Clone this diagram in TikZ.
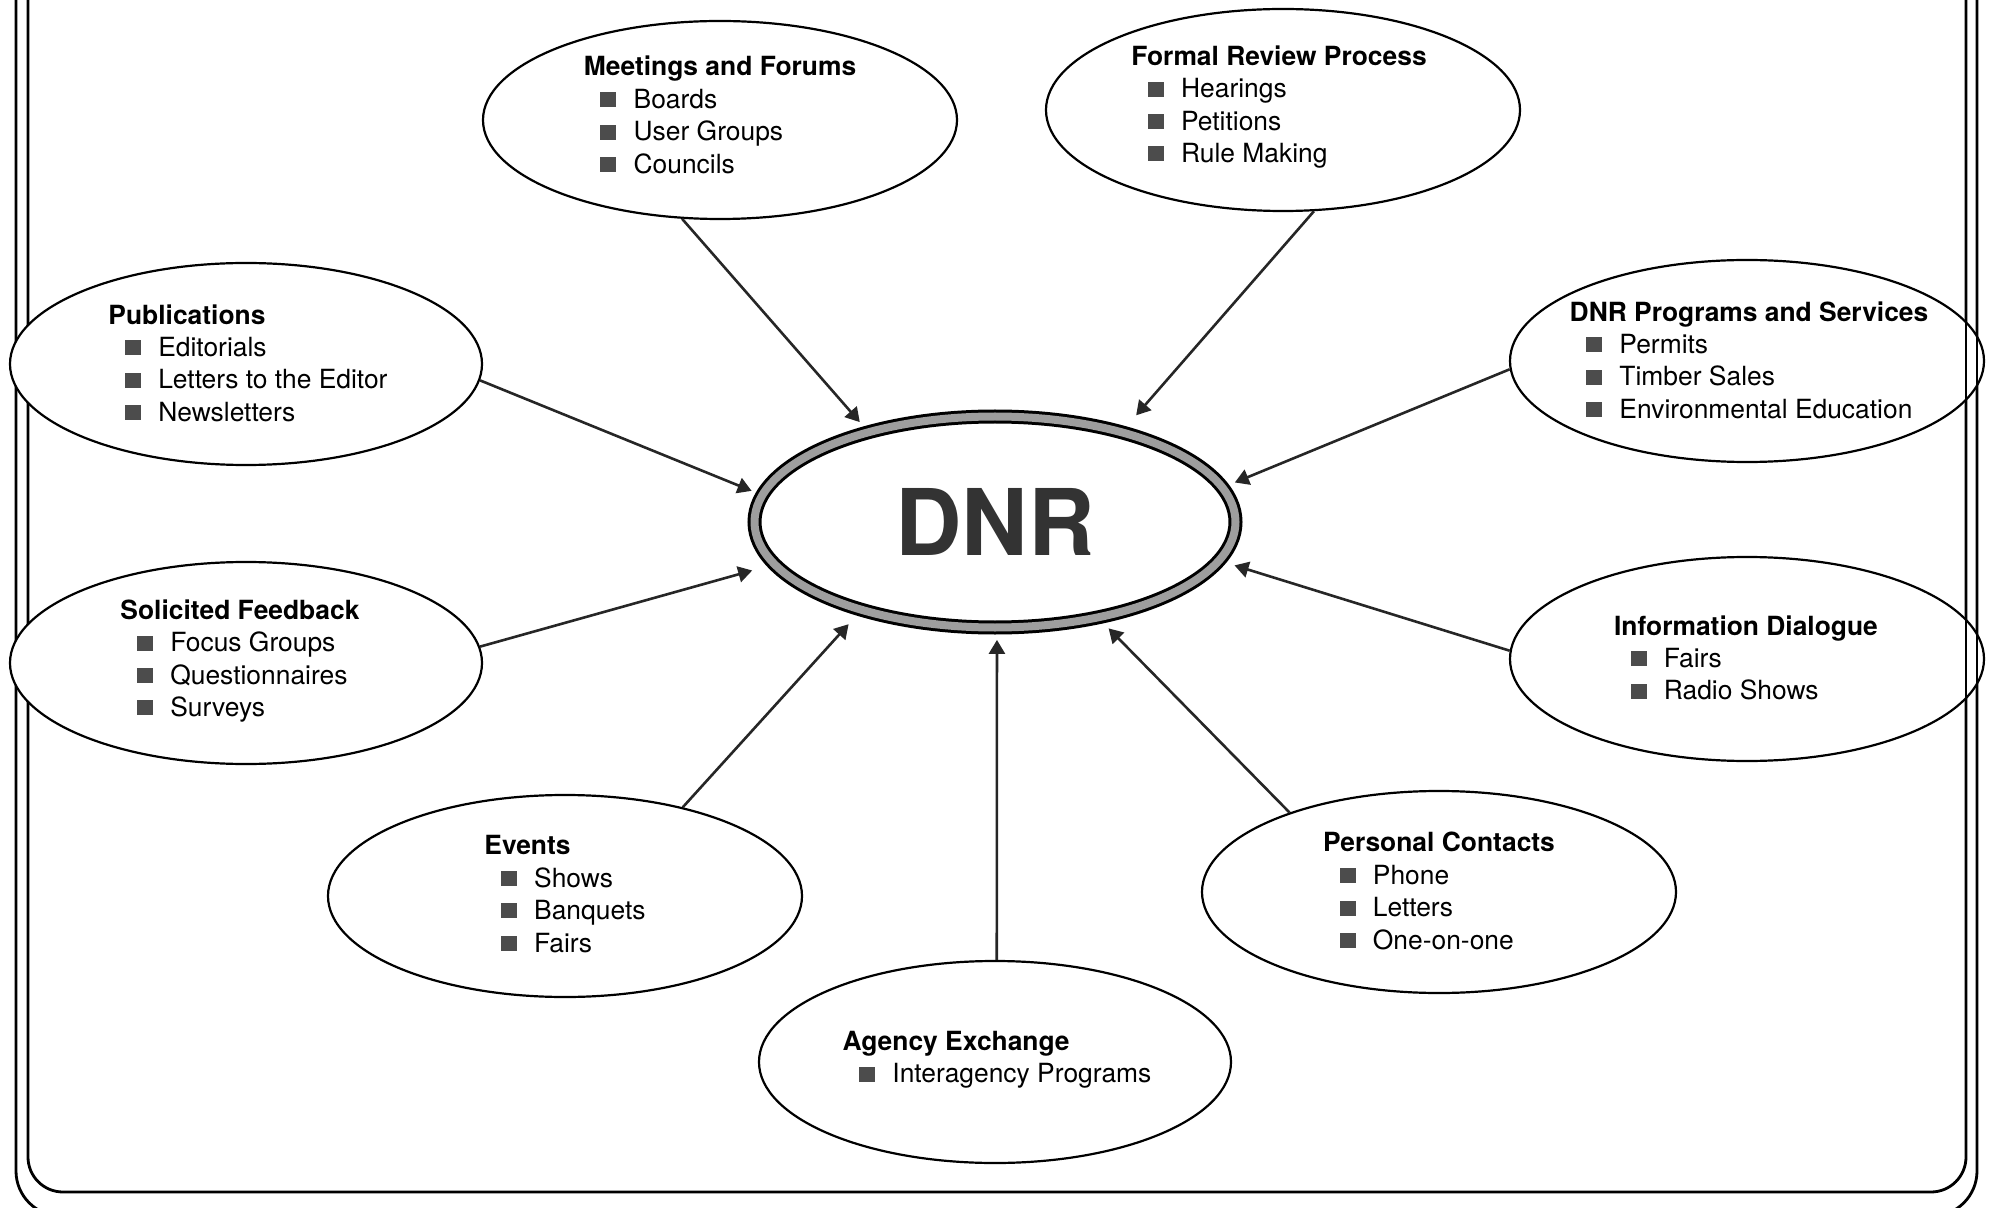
\documentclass[tikz,border=0pt]{standalone}
\usepackage{fontspec}
\setmainfont{TeX Gyre Heros}
\usetikzlibrary{shapes.geometric,arrows.meta}
\definecolor{bulc}{gray}{0.3}
\definecolor{ringc}{gray}{0.62}
\definecolor{dnrc}{gray}{0.2}
\newcommand\bi{\hspace*{8.3pt}{\color{bulc}\rule[0.6pt]{8pt}{7.5pt}}\hspace*{8.6pt}}
\begin{document}
\begin{tikzpicture}[x=0.5pt,y=-0.5pt,
  box/.style={ellipse, draw, line width=1.1pt, fill=white, inner sep=0pt},
  txt/.style={align=left, inner sep=0pt, font=\fontsize{13.2pt}{16.2pt}\selectfont},
  arr/.style={line width=1.3pt, -{Triangle[length=7pt,width=8pt]}, color=black!85},
  framel/.style={line width=1.4pt}]
\useasboundingbox (0,0) rectangle (1992,1208);
% frame
\draw[framel, rounded corners=17.5pt] (28,-10) -- (28,1192) -- (1966,1192) -- (1966,-10);
\draw[framel, rounded corners=22.5pt] (16,-10) -- (16,1216) -- (1977,1216) -- (1977,-10);
% outer boxes
\node[box, minimum width=237pt, minimum height=99pt]  (meet) at (720,120) {};
\node[box, minimum width=237pt, minimum height=101pt] (form) at (1283,110) {};
\node[box, minimum width=236pt, minimum height=101pt] (pub)  at (246,364) {};
\node[box, minimum width=237pt, minimum height=101pt] (prog) at (1747,361) {};
\node[box, minimum width=236pt, minimum height=101pt] (sol)  at (246,663) {};
\node[box, minimum width=237pt, minimum height=102pt] (info) at (1747,659) {};
\node[box, minimum width=237pt, minimum height=101pt] (evt)  at (565,896) {};
\node[box, minimum width=237pt, minimum height=101pt] (pers) at (1439,892) {};
\node[box, minimum width=236pt, minimum height=101pt] (agen) at (995,1062) {};
% right frame lines visible over the boxes
\draw[framel] (1966,-10) -- (1966,1100);
\draw[framel] (1977,-10) -- (1977,1100);
% centre
\node[ellipse, draw=black, line width=1.5pt, double=ringc, double distance=4pt,
      fill=white, inner sep=0pt, outer sep=3.5pt,
      minimum width=240.5pt, minimum height=105.5pt,
      text=dnrc, font=\fontsize{46pt}{50pt}\selectfont\bfseries] (dnr) at (995,522) {DNR};
% texts
\node[txt] (meett) at (720,115) {\textbf{Meetings and Forums}\\ \bi Boards\\ \bi User Groups\\ \bi Councils};
\node[txt] (formt) at (1279,107) {\textbf{Formal Review Process}\\ \bi Hearings\\ \bi Petitions\\ \bi Rule Making};
\node[txt] (pubt) at (248,363) {\textbf{Publications}\\ \bi Editorials\\ \bi Letters to the Editor\\ \bi Newsletters};
\node[txt] (progt) at (1749,360) {\textbf{DNR Programs and Services}\\ \bi Permits\\ \bi Timber Sales\\ \bi Environmental Education};
\node[txt] (solt) at (240,661) {\textbf{Solicited Feedback}\\ \bi Focus Groups\\ \bi Questionnaires\\ \bi Surveys};
\node[txt] (infot) at (1746,658) {\textbf{Information Dialogue}\\ \bi Fairs\\ \bi Radio Shows};
\node[txt] (evtt) at (565,894) {\textbf{Events}\\ \bi Shows\\ \bi Banquets\\ \bi Fairs};
\node[txt] (perst) at (1439,891) {\textbf{Personal Contacts}\\ \bi Phone\\ \bi Letters\\ \bi One-on-one};
\node[txt] (agent) at (997,1060) {\textbf{Agency Exchange}\\ \bi Interagency Programs};
% connectors
\draw[arr, shorten >=3pt]   (meet.249) -- (dnr.144);
\draw[arr, shorten >=7.5pt] (form.287) -- (dnr.36);
\draw[arr, shorten >=2.4pt] (pub.356)  -- (dnr.173);
\draw[arr, shorten >=3.3pt] (prog.182) -- (dnr.9);
\draw[arr, shorten >=7.9pt] (sol.4)    -- (dnr.191);
\draw[arr, shorten >=4.6pt] (info.178) -- (dnr.350);
\draw[arr, shorten >=6pt]   (evt.37)   -- (dnr.214);
\draw[arr, shorten >=3.7pt] (pers.152) -- (dnr.317);
\draw[arr, shorten >=2.7pt] (agen.89)  -- (dnr.271);
\end{tikzpicture}
\end{document}
